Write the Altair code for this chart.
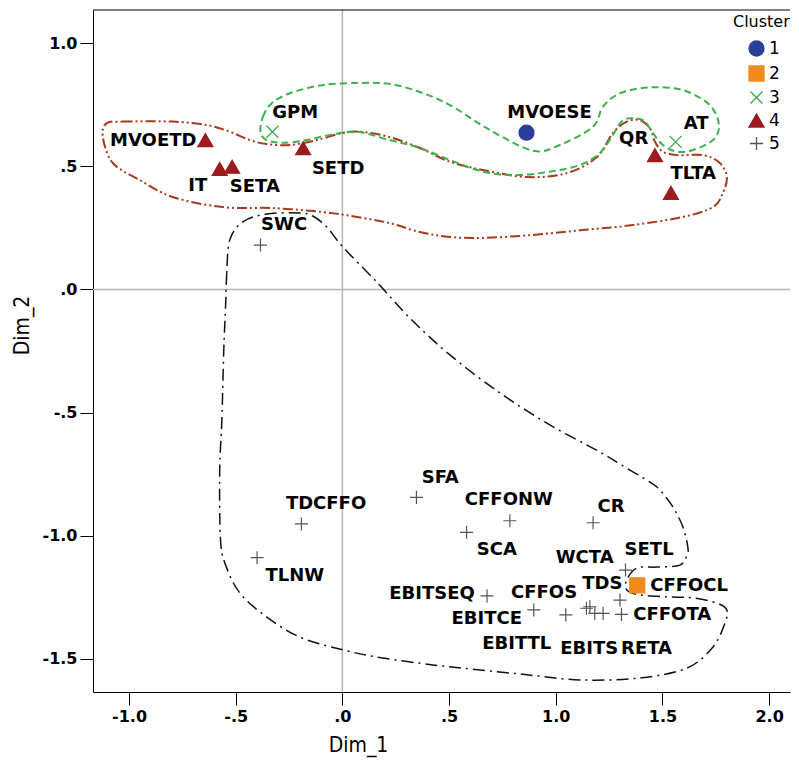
import altair as alt
import pandas as pd

# ---------------- data ----------------
names = ["MVOESE", "CFFOCL", "GPM", "AT", "MVOETD", "IT", "SETA", "SETD", "QR", "TLTA",
         "SWC", "TDCFFO", "TLNW", "SFA", "SCA", "CFFONW", "CR", "EBITSEQ", "EBITCE", "CFFOS",
         "EBITTL", "TDS", "EBITS", "RETA", "WCTA", "CFFOTA", "SETL"]
cluster = ["1", "2", "3", "3", "4", "4", "4", "4", "4", "4"] + ["5"] * 17
dim1 = [0.863, 1.382, -0.328, 1.562, -0.642, -0.575, -0.517, -0.184, 1.465, 1.540,
        -0.384, -0.192, -0.400, 0.347, 0.582, 0.785, 1.175, 0.678, 0.897, 1.047,
        1.144, 1.160, 1.183, 1.222, 1.301, 1.308, 1.327]
dim2 = [0.636, -1.201, 0.640, 0.599, 0.606, 0.489, 0.498, 0.573, 0.545, 0.392,
        0.180, -0.952, -1.089, -0.844, -0.986, -0.939, -0.947, -1.244, -1.301, -1.321,
        -1.294, -1.288, -1.315, -1.315, -1.261, -1.319, -1.139]

# hand-drawn cluster outlines (vertices in Dim_1 / Dim_2 units)
green_x = [-0.384, -0.372, -0.332, -0.247, -0.090, 0.082, 0.222, 0.363, 0.504, 0.691,
           0.893, 1.019, 1.174, 1.221, 1.301, 1.441, 1.596, 1.722, 1.765, 1.737,
           1.643, 1.568, 1.502, 1.455, 1.418, 1.371, 1.315, 1.268, 1.207, 1.113,
           0.972, 0.816, 0.658, 0.504, 0.363, 0.222, 0.066, -0.059, -0.168, -0.278, -0.356]
green_y = [0.640, 0.701, 0.755, 0.796, 0.830, 0.838, 0.834, 0.801, 0.748, 0.647,
           0.563, 0.586, 0.660, 0.741, 0.796, 0.820, 0.809, 0.748, 0.667, 0.606,
           0.566, 0.559, 0.586, 0.635, 0.681, 0.694, 0.687, 0.627, 0.554, 0.505,
           0.478, 0.464, 0.478, 0.525, 0.574, 0.606, 0.640, 0.627, 0.606, 0.595, 0.606]

brown_x = [-1.106, -1.030, -0.795, -0.636, -0.528, -0.434, -0.354, -0.247, -0.120, 0.002,
           0.096, 0.222, 0.363, 0.504, 0.658, 0.865, 1.052, 1.193, 1.268, 1.333,
           1.394, 1.441, 1.465, 1.502, 1.568, 1.690, 1.769, 1.802, 1.783, 1.737,
           1.596, 1.361, 1.127, 0.893, 0.658, 0.504, 0.363, 0.222, 0.068, -0.092,
           -0.326, -0.561, -0.795, -0.950, -1.076, -1.123]
brown_y = [0.674, 0.681, 0.681, 0.667, 0.640, 0.606, 0.590, 0.586, 0.606, 0.635,
           0.639, 0.618, 0.574, 0.518, 0.485, 0.456, 0.472, 0.537, 0.635, 0.681,
           0.687, 0.655, 0.599, 0.559, 0.545, 0.545, 0.513, 0.456, 0.391, 0.334,
           0.294, 0.261, 0.241, 0.221, 0.209, 0.213, 0.233, 0.269, 0.294, 0.314,
           0.330, 0.334, 0.375, 0.444, 0.513, 0.618]

black_x = [-0.528, -0.542, -0.547, -0.556, -0.565, -0.575, -0.572, -0.551, -0.481, -0.354,
           -0.200, 0.002, 0.189, 0.424, 0.564, 0.832, 1.113, 1.394, 1.615, 1.737,
           1.793, 1.802, 1.755, 1.643, 1.521, 1.394, 1.333, 1.333, 1.380, 1.474,
           1.582, 1.615, 1.619, 1.596, 1.549, 1.488, 1.441, 1.301, 1.207, 0.972,
           0.738, 0.504, 0.316, 0.161, 0.002, -0.073, -0.139, -0.200, -0.354, -0.467]
black_y = [0.200, 0.067, -0.055, -0.246, -0.530, -0.733, -1.005, -1.110, -1.232, -1.330,
           -1.411, -1.463, -1.496, -1.524, -1.537, -1.561, -1.585, -1.577, -1.537, -1.451,
           -1.354, -1.301, -1.273, -1.252, -1.248, -1.240, -1.220, -1.179, -1.131, -1.127,
           -1.119, -1.078, -1.045, -0.964, -0.883, -0.814, -0.782, -0.709, -0.660, -0.550,
           -0.420, -0.266, -0.116, 0.030, 0.172, 0.253, 0.298, 0.310, 0.306, 0.274]

x_ticks = [-1.0, -0.5, 0.0, 0.5, 1.0, 1.5, 2.0]
y_ticks = [-1.5, -1.0, -0.5, 0.0, 0.5, 1.0]
clusters = ["1", "2", "3", "4", "5"]

# ---------------- layout / style ----------------
WIDTH, HEIGHT = 697, 682
XMIN, XMAX = -1.169, 2.098
YMIN, YMAX = -1.634, 1.134
PX_X = WIDTH / (XMAX - XMIN)
PX_Y = HEIGHT / (YMAX - YMIN)

# label offsets from their point, in pixels (dx right, dy down)
LABEL_OFFSETS = {
    "MVOESE": (23, -19.7), "CFFOCL": (51.9, 0.5), "GPM": (22.8, -18.4), "AT": (20.5, -18),
    "MVOETD": (-52.2, 0.5), "IT": (-22, 17), "SETA": (22.7, 20.3), "SETD": (35, 20.5),
    "QR": (-21.3, -15.7), "TLTA": (22.3, -19), "SWC": (23.6, -20), "TDCFFO": (24.6, -20.3),
    "TLNW": (37.7, 18.6), "SFA": (23.8, -19.8), "SCA": (30.3, 18), "CFFONW": (-1, -20.7),
    "CR": (18, -15.7), "EBITSEQ": (-55, -1.5), "EBITCE": (-47, 8.8), "CFFOS": (-21.7, -22.3),
    "EBITTL": (-69.7, 35.4), "TDS": (12.5, -22.5), "EBITS": (-5.5, 35.9), "RETA": (43.4, 35.9),
    "WCTA": (-35.3, -41.7), "CFFOTA": (50.8, 0.4), "SETL": (23.6, -20),
}

shape_range = ["circle", "square", "M-0.8,-0.8L0.8,0.8M-0.8,0.8L0.8,-0.8",
               "triangle-up", "M-0.87,0L0.87,0M0,-0.87L0,0.87"]
stroke_range = ["#2b3f98", "#f28b1e", "#2fa94a", "#9b1b1e", "#555555"]
fill_range = ["#2b3f98", "#f28b1e", "transparent", "#9b1b1e", "transparent"]

pts = pd.DataFrame({"name": names, "cluster": cluster, "x": dim1, "y": dim2})
lab = pts.copy()
lab["x"] = [x + LABEL_OFFSETS[n][0] / PX_X for n, x in zip(names, dim1)]
lab["y"] = [y - LABEL_OFFSETS[n][1] / PX_Y for n, y in zip(names, dim2)]

xscale = alt.Scale(domain=[XMIN, XMAX], nice=False, zero=False)
yscale = alt.Scale(domain=[YMIN, YMAX], nice=False, zero=False)
label_expr = "replace(replace(format(datum.value, '.1f'), '0.', '.'), '\u2212', '-')"
xaxis = alt.Axis(values=x_ticks, labelExpr=label_expr, title="Dim_1", grid=False,
                 titleX=265, titleY=42, titleBaseline="top", titleAlign="center")
yaxis = alt.Axis(values=y_ticks, labelExpr=label_expr, title="Dim_2", grid=False,
                 titleX=-71, titleY=315, titleAlign="center", titleAngle=-90,
                 titleBaseline="middle")


def X():
    return alt.X("x:Q", scale=xscale, axis=xaxis)


def Y():
    return alt.Y("y:Q", scale=yscale, axis=yaxis)


vrule = alt.Chart(pd.DataFrame({"x": [0.0]})).mark_rule(
    color="#b4b4b4", strokeWidth=1.5).encode(x=X())
hrule = alt.Chart(pd.DataFrame({"y": [0.0]})).mark_rule(
    color="#b4b4b4", strokeWidth=1.5).encode(y=Y())
top_border = alt.Chart(pd.DataFrame({"k": [0]})).mark_rule(
    color="black", strokeWidth=1).encode(y=alt.value(0))


def hull(xs, ys, color, dash, width):
    df = pd.DataFrame({"x": xs, "y": ys, "i": list(range(len(xs)))})
    return alt.Chart(df).mark_line(
        interpolate="cardinal-closed", color=color, strokeDash=dash,
        strokeWidth=width).encode(x=X(), y=Y(), order="i:Q")


green = hull(green_x, green_y, "#3cb24c", [7, 4], 2)
brown = hull(brown_x, brown_y, "#a33b1d", [10, 3, 2, 3, 2, 3], 2)
black = hull(black_x, black_y, "#111111", [12, 5, 2, 5], 1.5)

legend = alt.Legend(title="Cluster", orient="none", legendX=640, legendY=4,
                    titleFont="DejaVu Sans", titleFontSize=16, titleFontWeight="normal",
                    titleColor="black", titlePadding=10,
                    labelFont="DejaVu Sans", labelFontSize=17, labelColor="black",
                    symbolSize=225, symbolStrokeWidth=1.3, rowPadding=4,
                    padding=0, symbolOffset=15, labelOffset=4)

points = alt.Chart(pts).mark_point(size=225, strokeWidth=1.2, opacity=1).encode(
    x=X(), y=Y(),
    color=alt.Color("cluster:N", scale=alt.Scale(domain=clusters, range=stroke_range), legend=legend),
    fill=alt.Fill("cluster:N", scale=alt.Scale(domain=clusters, range=fill_range), legend=legend),
    shape=alt.Shape("cluster:N", scale=alt.Scale(domain=clusters, range=shape_range), legend=legend),
)

labels = alt.Chart(lab).mark_text(
    font="DejaVu Sans", fontWeight="bold", fontSize=18, color="black",
    align="center", baseline="middle").encode(x=X(), y=Y(), text="name:N")

chart = alt.layer(vrule, hrule, top_border, brown, green, black, points, labels).properties(
    width=WIDTH, height=HEIGHT,
    autosize=alt.AutoSizeParams(type="none"),
    padding={"left": 85, "top": 2, "right": 1, "bottom": 66},
).configure_view(stroke=None).configure_axis(
    domainColor="black", domainWidth=1, tickColor="black", tickSize=13, tickWidth=1,
    labelFont="DejaVu Sans", labelFontWeight="bold", labelFontSize=16, labelColor="black",
    labelPadding=3,
    titleFont="DejaVu Sans Condensed, Liberation Sans Narrow, Liberation Sans",
    titleFontWeight="normal", titleFontSize=21, titleColor="black",
)

chart.save("out.html", embed_options={"renderer": "svg", "actions": False})
